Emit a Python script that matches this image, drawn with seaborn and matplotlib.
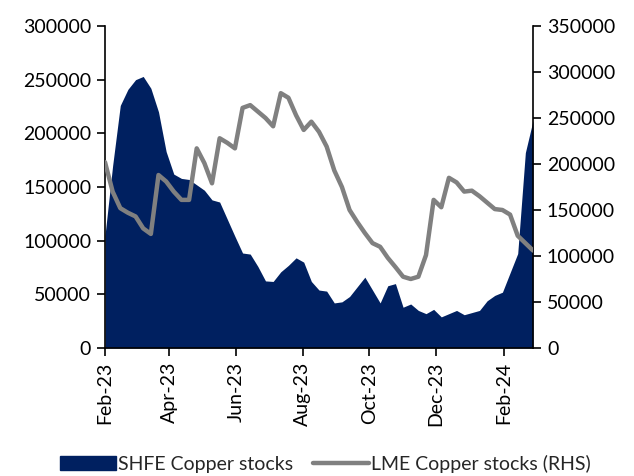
import matplotlib
matplotlib.use("Agg")
import matplotlib.pyplot as plt
import matplotlib.dates as mdates
from matplotlib.patches import Patch
from matplotlib.lines import Line2D
import seaborn as sns
import pandas as pd
import numpy as np

dates = pd.date_range("2023-02-03", periods=57, freq="7D")

shfe = [105000, 170000, 226000, 241000, 250000, 253000, 242000, 220000, 183000, 162000,
        158000, 157000, 152000, 147000, 138000, 136000, 120000, 104000, 88500, 87500,
        76000, 62500, 62000, 71000, 77000, 84000, 80000, 62000, 54000, 53000,
        42000, 43000, 48000, 57000, 66000, 54000, 42000, 58000, 60000, 38000,
        41000, 35000, 32000, 36000, 29000, 32000, 35000, 31000, 33000, 35000,
        44000, 49000, 52000, 70000, 88000, 182000, 212000]

lme = [202000, 170000, 152000, 147000, 143000, 130000, 124000, 188000, 181000, 170000,
       161000, 161000, 217000, 201000, 179000, 228000, 223000, 217000, 261000, 264000,
       257000, 250000, 241000, 277000, 272000, 253000, 237000, 246000, 235000, 219000,
       193000, 175000, 150000, 137000, 125000, 114000, 110000, 98000, 88000, 77500,
       75000, 77500, 101000, 161000, 153000, 185000, 180000, 170000, 171000, 165000,
       158000, 151000, 150000, 145000, 122000, 114000, 106000]

left_ticks = [0, 50000, 100000, 150000, 200000, 250000, 300000]
right_ticks = [0, 50000, 100000, 150000, 200000, 250000, 300000, 350000]
x_tick_dates = ["2023-02-03", "2023-04-03", "2023-06-03", "2023-08-03",
                "2023-10-03", "2023-12-03", "2024-02-03"]

df = pd.DataFrame({"date": dates, "SHFE": shfe, "LME": lme})

sns.set_style("white")
plt.rcParams["font.family"] = ["Lato", "DejaVu Sans"]

navy = "#002060"
grey = "#808080"

fig = plt.figure(figsize=(6.34, 4.76), dpi=100)
ax = fig.add_axes([105/634, 1-348/476, (533-105)/634, (348-26)/476])

ax.fill_between(df["date"], 0, df["SHFE"], color=navy, linewidth=0, zorder=1)
ax2 = ax.twinx()
sns.lineplot(data=df, x="date", y="LME", ax=ax2, color=grey, linewidth=3.2, zorder=3)

ax.set_xlim(dates[0], dates[-1])
ax.set_ylim(0, 300000)
ax2.set_ylim(0, 350000)
ax.set_yticks(left_ticks)
ax.set_yticklabels([str(t) for t in left_ticks])
ax2.set_yticks(right_ticks)
ax2.set_yticklabels([str(t) for t in right_ticks])

ax.set_xticks(pd.to_datetime(x_tick_dates))
ax.xaxis.set_major_formatter(mdates.DateFormatter("%b-%y"))
for lab in ax.get_xticklabels():
    lab.set_rotation(90)

for a in (ax, ax2):
    a.set_xlabel("")
    a.set_ylabel("")
    a.grid(False)
    a.spines["top"].set_visible(False)
    for s in ("left", "right", "bottom"):
        a.spines[s].set_color("black")
        a.spines[s].set_linewidth(1.2)
    a.tick_params(labelsize=14, colors="black", length=6, width=1.2, direction="out")
ax.tick_params(axis="y", left=True, right=False, pad=4)
ax.tick_params(axis="x", bottom=True, pad=4)
ax2.tick_params(axis="y", right=True, left=False, pad=4)
ax.spines["right"].set_visible(False)
ax2.spines["left"].set_visible(False)
ax2.spines["bottom"].set_visible(False)

handles = [Patch(facecolor=navy, edgecolor=navy),
           Line2D([0], [0], color=grey, linewidth=3.2)]
fig.legend(handles, ["SHFE Copper stocks", "LME Copper stocks (RHS)"],
           loc="center", bbox_to_anchor=(0.513, 1-464/476), ncol=2, frameon=False,
           fontsize=14, handlelength=2.9, handletextpad=0.1, columnspacing=1.0,
           borderaxespad=0)

fig.savefig("out.png", dpi=100)
